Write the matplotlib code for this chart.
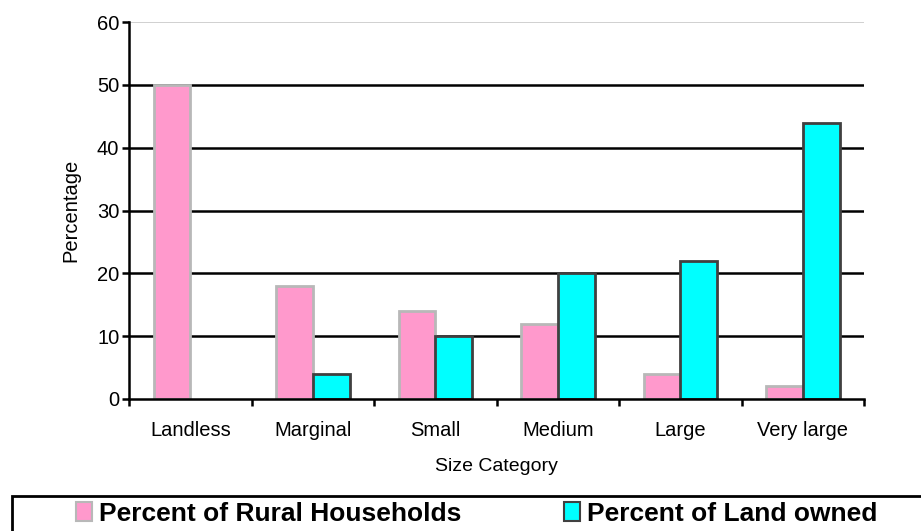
import numpy as np
import matplotlib
matplotlib.use("Agg")
import matplotlib.pyplot as plt
from matplotlib.patches import Rectangle, Patch

plt.rcParams['font.family'] = ['Liberation Sans', 'DejaVu Sans']

# --- data ---
categories = ["Landless", "Marginal", "Small", "Medium", "Large", "Very large"]
rural_households = [50, 18, 14, 12, 4, 2]
land_owned = [0, 4, 10, 20, 22, 44]
yticks = [0, 10, 20, 30, 40, 50, 60]

pink = "#FF99CC"
cyan = "#00FFFF"

fig = plt.figure(figsize=(9.21, 5.31), dpi=100)
ax = fig.add_axes([129 / 921, 1 - 399 / 531, (864 - 129) / 921, (399 - 22) / 531])

x = np.arange(len(categories))
w = 0.3

# gridlines (black, top one light gray)
for y in yticks[1:]:
    ax.axhline(y, color="black" if y < 60 else "#C8C8C8", lw=1.8 if y < 60 else 1.2, zorder=1)

ax.bar(x - w / 2, rural_households, w, color=pink, edgecolor="#B8B8B8", linewidth=2, zorder=3)
land_bars = ax.bar(x + w / 2, land_owned, w, color=cyan, edgecolor="#404040", linewidth=2, zorder=3)
# no visible bar for zero value
land_bars[0].set_visible(False)

ax.set_xlim(-0.5, len(categories) - 0.5)
ax.set_ylim(0, 60)

ax.set_yticks(yticks)
ax.set_xticks(np.arange(len(categories) + 1) - 0.5)
ax.set_xticklabels([])
ax.set_xticks(x, minor=True)
ax.set_xticklabels(categories, minor=True)

ax.tick_params(axis="y", which="major", direction="out", length=5, width=1.8, labelsize=14.5, pad=2)
ax.tick_params(axis="x", which="major", direction="out", length=5, width=1.8)
ax.tick_params(axis="x", which="minor", length=0, labelsize=14.5, pad=16)

for s in ["top", "right"]:
    ax.spines[s].set_visible(False)
for s in ["left", "bottom"]:
    ax.spines[s].set_linewidth(1.8)
    ax.spines[s].set_zorder(4)

ax.set_ylabel("Percentage", fontsize=14.5, labelpad=12)
ax.set_xlabel("Size Category", fontsize=14, labelpad=13)

# legend box running off the right/bottom edge
fig.add_artist(Rectangle((12 / 921, -0.05), 1.0, (531 - 496) / 531 + 0.05,
                         transform=fig.transFigure, fill=False, edgecolor="black", lw=2))

handles = [Patch(facecolor=pink, edgecolor="#B8B8B8", lw=1.5),
           Patch(facecolor=cyan, edgecolor="#404040", lw=1.5)]
fig.legend(handles, ["Percent of Rural Households", "Percent of Land owned"],
           loc="center left", bbox_to_anchor=(58 / 921, (531 - 514) / 531), ncol=2,
           frameon=False, prop={"weight": "bold", "size": 19},
           handlelength=0.6, handleheight=0.75, handletextpad=0.25, columnspacing=3.9,
           borderpad=0.2)

fig.savefig("out.png", dpi=100)
